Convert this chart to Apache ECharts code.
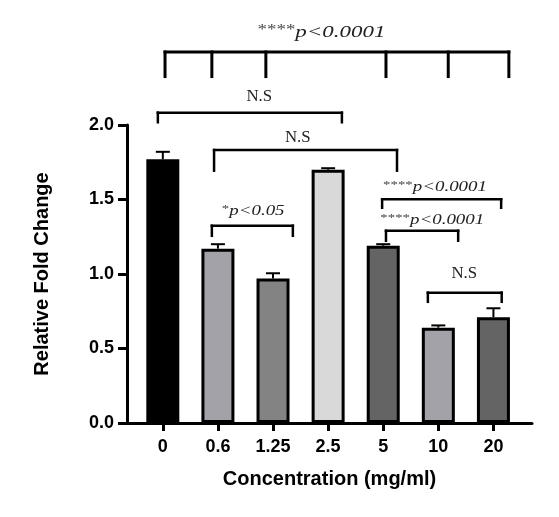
<!DOCTYPE html>
<html>
<head>
<meta charset="utf-8">
<script src="https://cdn.jsdelivr.net/npm/echarts@6/dist/echarts.min.js"></script>
<style>
  html, body { margin: 0; padding: 0; background: #fff; }
  #main { width: 559px; height: 517px; }
</style>
</head>
<body>
<div id="main"></div>
<script>
// data
const categories = ['0', '0.6', '1.25', '2.5', '5', '10', '20'];
const foldChange = [1.77, 1.17, 0.97, 1.70, 1.19, 0.64, 0.71];
const errUp = [0.05, 0.03, 0.035, 0.01, 0.01, 0.015, 0.06];
const barColors = ['#000000', '#a2a2a8', '#838383', '#d9d9d9', '#646464', '#a2a2a8', '#646464'];

// significance brackets (x in category units, y in fold change units)
const sigLabels = ['****|p<0.0001', 'N.S', 'N.S', '*|p<0.05', '****|p<0.0001', '****|p<0.0001', 'N.S'];
const sigDrops = [
  [0.04, 0.89, 1.87, 4.05, 5.18, 6.28],
  [-0.09, 3.25],
  [0.93, 4.25],
  [0.89, 2.36],
  [3.98, 6.14],
  [4.05, 5.36],
  [4.81, 6.15]
];
const sigLineY = [2.49, 2.083, 1.832, 1.324, 1.501, 1.29, 0.875];
const sigDropY = [2.315, 2.01, 1.685, 1.248, 1.436, 1.215, 0.805];
const sigTextX = [2.88, 1.75, 2.45, 1.64, 4.94, 4.89, 5.47];
const sigTextY = [2.62, 2.19, 1.913, 1.423, 1.584, 1.362, 1.0];
const sigSize = [17, 16, 16, 14, 14, 14, 16];

const myChart = echarts.init(document.getElementById('main'));
const sans = '"Liberation Sans", Arial, sans-serif';
const serif = '"Liberation Serif", "Times New Roman", serif';
const idx = categories.map((c, i) => i);

const option = {
  backgroundColor: '#fff',
  animation: false,
  grid: { left: 127, right: 27, top: 125, bottom: 94, outerBoundsMode: 'none' },
  xAxis: {
    type: 'value',
    min: -0.65,
    max: 6.7,
    splitLine: { show: false },
    axisLine: { onZero: false, lineStyle: { color: '#000', width: 3 } },
    axisTick: { length: 8, customValues: idx, lineStyle: { color: '#000', width: 3 } },
    axisLabel: {
      customValues: idx,
      formatter: v => categories[Math.round(v)],
      margin: 15, color: '#000', fontFamily: sans, fontWeight: 'bold', fontSize: 18
    },
    name: 'Concentration (mg/ml)',
    nameLocation: 'middle',
    nameGap: 46,
    nameTextStyle: { color: '#000', fontFamily: sans, fontWeight: 'bold', fontSize: 20 }
  },
  yAxis: {
    type: 'value',
    min: 0,
    max: 2,
    interval: 0.5,
    splitLine: { show: false },
    axisLine: { show: true, onZero: false, lineStyle: { color: '#000', width: 3 } },
    axisTick: { show: true, length: 9, lineStyle: { color: '#000', width: 3 } },
    axisLabel: {
      formatter: v => v.toFixed(1),
      margin: 13, color: '#000', fontFamily: sans, fontWeight: 'bold', fontSize: 18
    },
    name: 'Relative Fold Change',
    nameLocation: 'middle',
    nameGap: 75,
    nameTextStyle: { color: '#000', fontFamily: sans, fontWeight: 'bold', fontSize: 20 }
  },
  series: [
    {
      type: 'bar',
      barWidth: 33,
      z: 3,
      data: foldChange.map((v, i) => ({
        value: [i, v],
        itemStyle: { color: barColors[i], borderColor: '#000', borderWidth: 3 }
      }))
    },
    {
      type: 'custom',
      z: 2,
      clip: false,
      data: foldChange.map((v, i) => [i, v, errUp[i]]),
      renderItem: function (params, api) {
        const x = api.value(0), v = api.value(1), e = api.value(2);
        const base = api.coord([x, v]);
        const top = api.coord([x, v + e]);
        return {
          type: 'group',
          children: [
            { type: 'line', shape: { x1: base[0], y1: base[1], x2: top[0], y2: top[1] }, style: { stroke: '#000', lineWidth: 2 } },
            { type: 'line', shape: { x1: top[0] - 7, y1: top[1], x2: top[0] + 7, y2: top[1] }, style: { stroke: '#000', lineWidth: 2 } }
          ]
        };
      }
    },
    {
      type: 'custom',
      z: 4,
      clip: false,
      data: sigLabels.map((s, i) => [sigTextX[i], sigTextY[i], i]),
      renderItem: function (params, api) {
        const i = params.dataIndex;
        const drops = sigDrops[i];
        const lw = i === 0 ? 3 : 2.5;
        const lineL = api.coord([drops[0], sigLineY[i]]);
        const lineR = api.coord([drops[drops.length - 1], sigLineY[i]]);
        const children = [
          { type: 'line', shape: { x1: lineL[0] - lw / 2, y1: lineL[1], x2: lineR[0] + lw / 2, y2: lineR[1] }, style: { stroke: '#000', lineWidth: lw } }
        ];
        drops.forEach(dx => {
          const a = api.coord([dx, sigLineY[i]]);
          const b = api.coord([dx, sigDropY[i]]);
          children.push({ type: 'line', shape: { x1: a[0], y1: a[1] - lw / 2, x2: b[0], y2: b[1] }, style: { stroke: '#000', lineWidth: lw } });
        });
        const t = api.coord([sigTextX[i], sigTextY[i]]);
        const parts = sigLabels[i].split('|');
        const fs = sigSize[i];
        const isP = parts.length > 1;
        const txt = isP ? '{a|' + parts[0] + '}{b|' + parts[1] + '}' : '{c|' + parts[0] + '}';
        children.push({
          type: 'text',
          x: t[0], y: t[1],
          scaleX: isP ? 1.35 : 1.05,
          style: {
            text: txt,
            align: 'center',
            verticalAlign: 'middle',
            fill: '#222',
            rich: {
              a: { fontFamily: serif, fontSize: Math.round(fs * 0.8), fill: '#444', verticalAlign: 'top', padding: [0, 0, 4, 0] },
              b: { fontFamily: serif, fontSize: fs, fontStyle: 'italic', fill: '#222' },
              c: { fontFamily: serif, fontSize: fs, fill: '#222' }
            }
          }
        });
        return { type: 'group', children: children };
      }
    }
  ]
};
myChart.setOption(option);
window.onresize = function () {
  myChart.resize();
};
</script>
</body>
</html>
